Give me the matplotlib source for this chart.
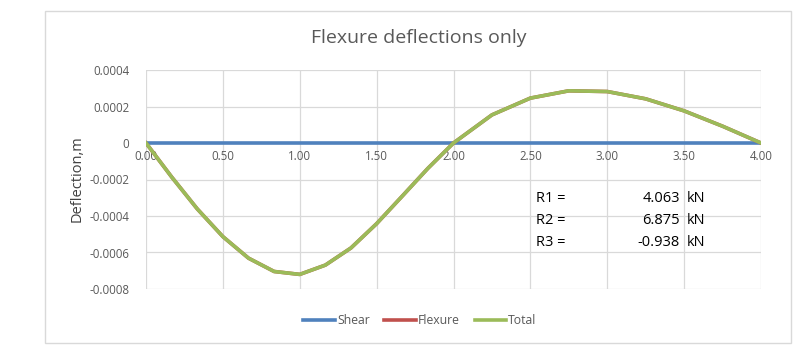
import matplotlib
matplotlib.use("Agg")
import matplotlib.pyplot as plt
from matplotlib.patches import Rectangle

# Data
x_pos = [0.0, 0.1667, 0.3333, 0.5, 0.6667, 0.8333, 1.0, 1.1667, 1.3333, 1.5, 1.6667, 1.8333,
         2.0, 2.25, 2.5, 2.75, 3.0, 3.25, 3.5, 3.75, 4.0]
shear = [0.0] * len(x_pos)
flexure = [0.0, -0.000186, -0.000361, -0.000513, -0.000631, -0.000704, -0.000720, -0.000669,
           -0.000575, -0.000442, -0.000291, -0.000139, 0.0, 0.000154, 0.000246, 0.000286,
           0.000282, 0.000242, 0.000176, 0.000092, 0.0]
total = list(flexure)

x_ticks = [0.0, 0.5, 1.0, 1.5, 2.0, 2.5, 3.0, 3.5, 4.0]
x_tick_labels = ["0.00", "0.50", "1.00", "1.50", "2.00", "2.50", "3.00", "3.50", "4.00"]
y_ticks = [-0.0008, -0.0006, -0.0004, -0.0002, 0.0, 0.0002, 0.0004]
y_tick_labels = ["-0.0008", "-0.0006", "-0.0004", "-0.0002", "0", "0.0002", "0.0004"]

react_names = ["R1 =", "R2 =", "R3 ="]
react_values = ["4.063", "6.875", "-0.938"]
react_units = ["kN", "kN", "kN"]

title = "Flexure deflections only"
ylabel = "Deflection,m"

plt.rcParams['font.family'] = ['Open Sans', 'DejaVu Sans']

W, H = 800, 350
fig = plt.figure(figsize=(W / 100, H / 100), dpi=100)
fig.patch.set_facecolor("white")

# chart border
fig.patches.append(Rectangle((45 / W, 1 - 343 / H), (791 - 45) / W, (343 - 11) / H,
                             transform=fig.transFigure, fill=False, edgecolor="#D9D9D9",
                             linewidth=1.0))

ax = fig.add_axes([146 / W, 1 - 289 / H, (761 - 146) / W, (289 - 70) / H])
ax.set_xlim(0, 4)
ax.set_ylim(-0.0008, 0.0004)
ax.set_xticks(x_ticks)
ax.set_xticklabels(x_tick_labels)
ax.set_yticks(y_ticks)
ax.set_yticklabels(y_tick_labels)
ax.grid(True, color="#D9D9D9", linewidth=0.9)
ax.set_axisbelow(True)
for s in ["top", "right", "left"]:
    ax.spines[s].set_visible(False)
ax.spines["bottom"].set_position(("data", 0))
ax.spines["bottom"].set_color("none")
ax.tick_params(axis="both", length=0, labelcolor="#595959", labelsize=8.3)
ax.tick_params(axis="y", pad=12)
ax.tick_params(axis="x", pad=5)

l1, = ax.plot(x_pos, shear, color="#4F81BD", linewidth=2.6, label="Shear", zorder=3)
l2, = ax.plot(x_pos, flexure, color="#C0504D", linewidth=2.6, label="Flexure", zorder=3)
l3, = ax.plot(x_pos, total, color="#9BBB59", linewidth=2.6, label="Total", zorder=3)

fig.text(419 / W, 1 - 38 / H, title, ha="center", va="center", fontsize=14, color="#595959")
fig.text(77 / W, 1 - 179 / H, ylabel, ha="center", va="center", rotation=90, fontsize=10.5,
         color="#404040")

rows_y = [198, 221, 243]
for nm, val, un, yy in zip(react_names, react_values, react_units, rows_y):
    fig.text(536 / W, 1 - yy / H, nm, ha="left", va="center", fontsize=10.5, color="black")
    fig.text(680 / W, 1 - yy / H, val, ha="right", va="center", fontsize=10.5, color="black")
    fig.text(687 / W, 1 - yy / H, un, ha="left", va="center", fontsize=10.5, color="black")

leg = fig.legend(handles=[l1, l2, l3], loc="center", bbox_to_anchor=(420 / W, 1 - 321 / H),
                 ncol=3, frameon=False, fontsize=8.8, handlelength=2.6, handletextpad=0.15,
                 columnspacing=1.2, labelcolor="#595959")

fig.savefig("out.png", dpi=100, facecolor="white")
